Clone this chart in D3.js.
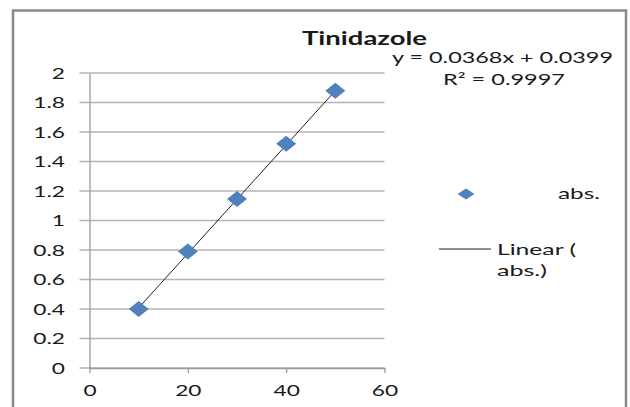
<!DOCTYPE html>
<html>
<head>
<meta charset="utf-8">
<script src="https://cdn.jsdelivr.net/npm/d3@7"></script>
<style>
  body { margin: 0; background: #fff; }
  text { font-family: Lato, "Open Sans", sans-serif; fill: #1a1a1a; }
</style>
</head>
<body>
<div id="chart-container"></div>
<script>
// Data
const concentrations = [10, 20, 30, 40, 50];
const absValues = [0.40, 0.79, 1.145, 1.52, 1.88];
const xTicks = [0, 20, 40, 60];
const yTicks = [0, 0.2, 0.4, 0.6, 0.8, 1, 1.2, 1.4, 1.6, 1.8, 2];
const slope = 0.0368;
const intercept = 0.0399;
const titleText = "Tinidazole";
const equationText = "y = 0.0368x + 0.0399";
const r2Text = "R² = 0.9997";
const seriesName = "abs.";

const points = concentrations.map((c, i) => ({ x: c, y: absValues[i] }));

// Chart dimensions
const width = 630;
const height = 407;
const marginLeft = 89.5;
const plotRight = 384.5;
const marginTop = 73;
const plotBottom = 368;
const stretch = 1.42; // the picture's text is wide, so stretch it sideways

const x = d3.scaleLinear()
  .domain([0, 60])
  .range([marginLeft, plotRight]);

const y = d3.scaleLinear()
  .domain([0, 2])
  .range([plotBottom, marginTop]);

// diamond symbol with its own width and height
const diamondType = (w, h) => ({
  draw(context) {
    context.moveTo(0, -h / 2);
    context.lineTo(w / 2, 0);
    context.lineTo(0, h / 2);
    context.lineTo(-w / 2, 0);
    context.closePath();
  }
});

const svg = d3.create("svg")
  .attr("width", width)
  .attr("height", height)
  .attr("viewBox", [0, 0, width, height]);

// Outer frame (bottom edge is off the picture)
svg.append("rect")
  .attr("x", 13)
  .attr("y", 10.5)
  .attr("width", 613)
  .attr("height", 420)
  .attr("fill", "none")
  .attr("stroke", "#8a8a8a")
  .attr("stroke-width", 2.5);

// Horizontal gridlines with left ticks
svg.append("g")
  .selectAll("line")
  .data(yTicks)
  .join("line")
  .attr("x1", marginLeft - 10)
  .attr("x2", plotRight)
  .attr("y1", d => y(d))
  .attr("y2", d => y(d))
  .attr("stroke", "#b4b4b4")
  .attr("stroke-width", 1.3);

// stretch axis labels sideways around their own anchor
function stretchLabels(g) {
  g.selectAll("text").each(function() {
    const t = d3.select(this);
    const tx = +t.attr("x") || 0;
    const ty = +t.attr("y") || 0;
    t.attr("x", 0).attr("y", 0)
      .attr("transform", `translate(${tx},${ty}) scale(${stretch},1)`);
  });
}

// Y axis
svg.append("g")
  .attr("transform", `translate(${marginLeft},0)`)
  .call(d3.axisLeft(y).tickValues(yTicks).tickSize(0).tickPadding(24.5).tickFormat(d3.format("")))
  .call(g => g.select(".domain").attr("stroke", "#999").attr("stroke-width", 1.3))
  .call(g => g.selectAll("text").attr("font-size", 16).attr("fill", "#1a1a1a").attr("font-family", "Lato, sans-serif"))
  .call(stretchLabels);

// X axis
svg.append("g")
  .attr("transform", `translate(0,${plotBottom})`)
  .call(d3.axisBottom(x).tickValues(xTicks).tickSize(5).tickPadding(12).tickSizeOuter(0))
  .call(g => g.select(".domain").attr("stroke", "#999").attr("stroke-width", 1.3))
  .call(g => g.selectAll(".tick line").attr("stroke", "#999").attr("stroke-width", 1.3))
  .call(g => g.selectAll("text").attr("font-size", 16).attr("fill", "#1a1a1a").attr("font-family", "Lato, sans-serif"))
  .call(stretchLabels);

// Linear trendline
const xMin = d3.min(concentrations);
const xMax = d3.max(concentrations);
svg.append("line")
  .attr("x1", x(xMin))
  .attr("y1", y(slope * xMin + intercept))
  .attr("x2", x(xMax))
  .attr("y2", y(slope * xMax + intercept))
  .attr("stroke", "#222")
  .attr("stroke-width", 1);

// Diamond markers
svg.append("g")
  .selectAll("path")
  .data(points)
  .join("path")
  .attr("d", d3.symbol().type(diamondType(20, 16)))
  .attr("transform", d => `translate(${x(d.x)},${y(d.y)})`)
  .attr("fill", "#4f81bd");

// plain text stretched to a given width
function label(txt, x0, y0, w, size, opts = {}) {
  return svg.append("text")
    .attr("x", x0)
    .attr("y", y0)
    .attr("font-size", size)
    .attr("font-weight", opts.bold ? "bold" : null)
    .attr("textLength", w)
    .attr("lengthAdjust", "spacingAndGlyphs")
    .text(txt);
}

// Title
label(titleText, 302, 45, 125, 18, { bold: true });

// Trendline equation
label(equationText, 392, 63, 221, 15.5);
label(r2Text, 443, 85, 122, 15.5);

// Legend
svg.append("path")
  .attr("d", d3.symbol().type(diamondType(17, 11)))
  .attr("transform", "translate(466,194)")
  .attr("fill", "#4f81bd");

label(seriesName, 558, 199, 42, 15);

svg.append("line")
  .attr("x1", 439)
  .attr("x2", 491)
  .attr("y1", 249)
  .attr("y2", 249)
  .attr("stroke", "#222")
  .attr("stroke-width", 1);

label("Linear (", 497, 255, 79, 15);
label(seriesName + ")", 497, 276, 50, 15);

document.getElementById("chart-container").appendChild(svg.node());
</script>
</body>
</html>
